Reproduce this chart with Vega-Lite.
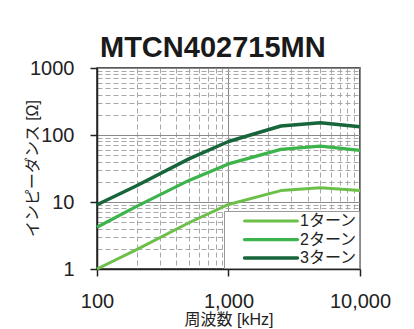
{
  "$schema": "https://vega.github.io/schema/vega-lite/v6.json",
  "width": 263,
  "height": 201,
  "autosize": {"type": "none"},
  "padding": {"left": 97, "top": 68, "right": 54, "bottom": 60},
  "background": "white",
  "title": {"text": "MTCN402715MN", "anchor": "start", "frame": "group", "dx": 3, "offset": -5, "fontSize": 29, "fontWeight": "bold", "font": "Liberation Sans", "color": "#1a1a1a"},
  "config": {"view": {"stroke": "#222", "strokeWidth": 1.5}},
  "data": {"values": [
    {"f": 100, "z": 1.0, "s": "1ターン"},
    {"f": 200, "z": 1.95, "s": "1ターン"},
    {"f": 500, "z": 4.9, "s": "1ターン"},
    {"f": 1000, "z": 9.2, "s": "1ターン"},
    {"f": 2500, "z": 14.8, "s": "1ターン"},
    {"f": 5000, "z": 16.3, "s": "1ターン"},
    {"f": 10000, "z": 14.8, "s": "1ターン"},
    {"f": 100, "z": 4.2, "s": "2ターン"},
    {"f": 200, "z": 8.6, "s": "2ターン"},
    {"f": 500, "z": 21, "s": "2ターン"},
    {"f": 1000, "z": 37, "s": "2ターン"},
    {"f": 2500, "z": 61, "s": "2ターン"},
    {"f": 5000, "z": 68, "s": "2ターン"},
    {"f": 10000, "z": 59, "s": "2ターン"},
    {"f": 100, "z": 9.1, "s": "3ターン"},
    {"f": 200, "z": 17.5, "s": "3ターン"},
    {"f": 500, "z": 44, "s": "3ターン"},
    {"f": 1000, "z": 80, "s": "3ターン"},
    {"f": 2500, "z": 136, "s": "3ターン"},
    {"f": 5000, "z": 152, "s": "3ターン"},
    {"f": 10000, "z": 133, "s": "3ターン"}
  ]},
  "mark": {"type": "line", "strokeJoin": "round", "strokeCap": "butt"},
  "encoding": {
    "x": {
      "field": "f", "type": "quantitative",
      "scale": {"type": "log", "domain": [100, 10000], "nice": false},
      "axis": {
        "values": [100,200,300,400,500,600,700,800,900,1000,2000,3000,4000,5000,6000,7000,8000,9000,10000],
        "labelExpr": "(datum.value==100||datum.value==1000||datum.value==10000) ? format(datum.value, ',') : ''",
        "title": "周波数 [kHz]",
        "titleFont": "Liberation Sans, Noto Sans CJK JP",
        "titleFontSize": 16, "titleFontWeight": "normal", "titleColor": "#222", "titlePadding": 0,
        "labelFont": "Liberation Sans", "labelFontSize": 20, "labelColor": "#222", "labelPadding": 15,
        "labelOverlap": false, "labelFlush": false,
        "domainColor": "#222", "domainWidth": 1.5,
        "tickSize": 7, "tickColor": "#222", "tickWidth": 1.5,
        "tickOpacity": {"condition": {"test": "datum.value==100||datum.value==1000||datum.value==10000", "value": 1}, "value": 0},
        "grid": true,
        "gridColor": {"condition": {"test": "datum.value==100||datum.value==1000||datum.value==10000", "value": "#8a8a8a"}, "value": "#a8a8a8"},
        "gridDash": {"condition": {"test": "datum.value==100||datum.value==1000||datum.value==10000", "value": []}, "value": [5, 3]},
        "gridWidth": 1
      }
    },
    "y": {
      "field": "z", "type": "quantitative",
      "scale": {"type": "log", "domain": [1, 1000], "nice": false},
      "axis": {
        "values": [1,2,3,4,5,6,7,8,9,10,20,30,40,50,60,70,80,90,100,200,300,400,500,600,700,800,900,1000],
        "labelExpr": "(datum.value==1||datum.value==10||datum.value==100||datum.value==1000) ? format(datum.value, 'd') : ''",
        "title": "インピーダンス [Ω]",
        "titleFont": "Liberation Sans, Noto Sans CJK JP",
        "titleFontSize": 16, "titleFontWeight": "normal", "titleColor": "#222",
        "titleAngle": 270, "titleX": -65, "titleY": 100, "titleAlign": "center", "titleBaseline": "middle",
        "labelFont": "Liberation Sans", "labelFontSize": 20, "labelColor": "#222", "labelPadding": 16,
        "labelOverlap": false, "labelFlush": false,
        "domainColor": "#222", "domainWidth": 1.5,
        "tickSize": 7, "tickColor": "#222", "tickWidth": 1.5,
        "tickOpacity": {"condition": {"test": "datum.value==1||datum.value==10||datum.value==100||datum.value==1000", "value": 1}, "value": 0},
        "grid": true,
        "gridColor": {"condition": {"test": "datum.value==1||datum.value==10||datum.value==100||datum.value==1000", "value": "#8a8a8a"}, "value": "#a8a8a8"},
        "gridDash": {"condition": {"test": "datum.value==1||datum.value==10||datum.value==100||datum.value==1000", "value": []}, "value": [5, 3]},
        "gridWidth": 1
      }
    },
    "color": {
      "field": "s", "type": "nominal",
      "scale": {"domain": ["1ターン", "2ターン", "3ターン"], "range": ["#6cc04a", "#3cb44b", "#17653a"]},
      "legend": {
        "orient": "bottom-right", "offset": 1, "title": null,
        "fillColor": "white", "strokeColor": "#999", "padding": 2,
        "symbolType": "M-5,0H5", "symbolSize": 112, "symbolStrokeWidth": 5, "symbolOffset": 37,
        "labelOffset": 21, "labelFontSize": 16, "labelFont": "Liberation Sans, Noto Sans CJK JP", "labelColor": "#222",
        "rowPadding": 2.5,
        "encode": {"symbols": {"update": {"strokeCap": {"value": "round"}}}}
      }
    },
    "strokeWidth": {
      "field": "s", "type": "ordinal",
      "scale": {"domain": ["1ターン", "2ターン", "3ターン"], "range": [3, 3.5, 5.5]},
      "legend": null
    }
  }
}
